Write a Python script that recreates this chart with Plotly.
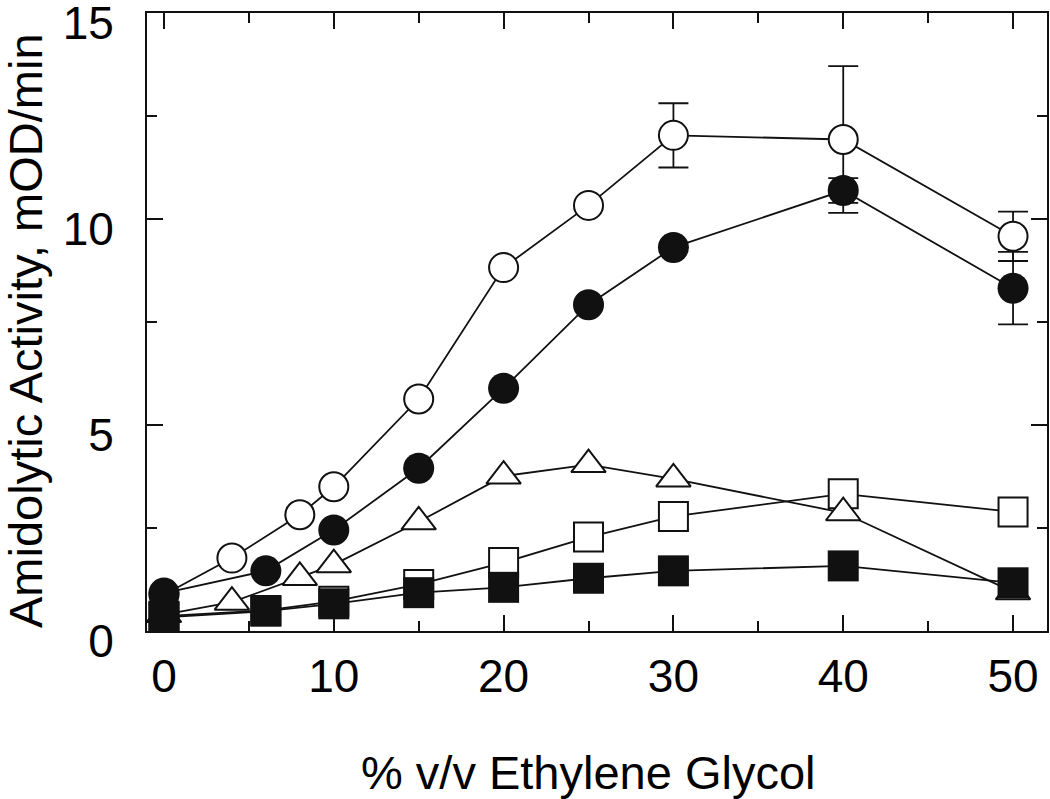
import plotly.graph_objects as go

# ---- data ----
x_open_circle = [0, 4, 8, 10, 15, 20, 25, 30, 40, 50]
y_open_circle = [0.88, 1.77, 2.82, 3.50, 5.63, 8.82, 10.33, 12.03, 11.93, 9.58]
e_open_circle = [None, None, None, None, None, None, None, 0.78, 1.78, 0.60]

x_filled_circle = [0, 6, 10, 15, 20, 25, 30, 40, 50]
y_filled_circle = [0.92, 1.46, 2.45, 3.95, 5.89, 7.92, 9.31, 10.69, 8.32]
e_filled_circle = [None, None, None, None, None, None, None, 0.30, 0.88]

x_triangle = [0, 4, 8, 10, 15, 20, 25, 30, 40, 50]
y_triangle = [0.40, 0.70, 1.30, 1.61, 2.65, 3.76, 4.04, 3.69, 2.87, 0.95]

x_square = [0, 6, 10, 15, 20, 25, 30, 40, 50]
y_open_square = [0.36, 0.50, 0.72, 1.13, 1.66, 2.28, 2.78, 3.33, 2.89]
y_filled_square = [0.33, 0.48, 0.66, 0.93, 1.06, 1.28, 1.46, 1.58, 1.17]

x_ticks = [0, 10, 20, 30, 40, 50]
y_ticks = [0, 5, 10, 15]

x_title = "% v/v Ethylene Glycol"
y_title = "Amidolytic Activity, mOD/min"

INK = "#111111"
FONT = "Liberation Sans, Arial, Helvetica, sans-serif"
LW = 1.8

fig = go.Figure()

def add(x, y, symbol, filled, size, err=None):
    kw = {}
    if err is not None:
        kw["error_y"] = dict(type="data", array=err, visible=True,
                             color=INK, thickness=1.8, width=15)
    fig.add_trace(go.Scatter(
        x=x, y=y, mode="lines+markers",
        line=dict(color=INK, width=LW),
        marker=dict(symbol=symbol, size=size,
                    color=INK if filled else "white",
                    line=dict(color=INK, width=0 if filled else 2)),
        showlegend=False, **kw))

add(x_square, y_open_square, "square", False, 29)
add(x_triangle, y_triangle, "triangle-up", False, 30)
add(x_open_circle, y_open_circle, "circle", False, 29, e_open_circle)
add(x_filled_circle, y_filled_circle, "circle", True, 31, e_filled_circle)
add(x_square, y_filled_square, "square", True, 31)

axis_common = dict(
    showline=True, linecolor=INK, linewidth=2, mirror="allticks",
    ticks="inside", tickcolor=INK, tickwidth=1.5, ticklen=16,
    showgrid=False, zeroline=False, ticklabeloverflow="allow",
    automargin=False,
    tickfont=dict(family=FONT, size=46, color="black"),
)

fig.update_xaxes(range=[-1, 52], tickvals=x_ticks,
                 minor=dict(ticks="inside", dtick=5, tick0=0, ticklen=10,
                            tickcolor=INK, tickwidth=1.5, showgrid=False),
                 ticklabelstandoff=4, **axis_common)
fig.update_yaxes(range=[0, 15], tickvals=y_ticks,
                 minor=dict(ticks="inside", dtick=2.5, tick0=0, ticklen=10,
                            tickcolor=INK, tickwidth=1.5, showgrid=False),
                 ticklabelstandoff=22, ticklabelshift=10, **axis_common)

fig.add_annotation(text=x_title, xref="paper", yref="paper",
                   x=(588 - 147) / 900, y=-(772 - 631) / 618,
                   xanchor="center", yanchor="middle", showarrow=False,
                   font=dict(family=FONT, size=47, color="black"))
fig.add_annotation(text=y_title, xref="paper", yref="paper",
                   x=-(147 - 25) / 900, y=(631 - 331) / 618, textangle=-90,
                   xanchor="center", yanchor="middle", showarrow=False,
                   font=dict(family=FONT, size=47, color="black"))

fig.update_layout(
    width=1050, height=799,
    margin=dict(l=147, r=3, t=13, b=168, autoexpand=False),
    paper_bgcolor="white", plot_bgcolor="white",
)

fig.write_html("out.html", config={"displayModeBar": False},
               post_script="document.body.style.margin='0';document.body.style.padding='0';")
